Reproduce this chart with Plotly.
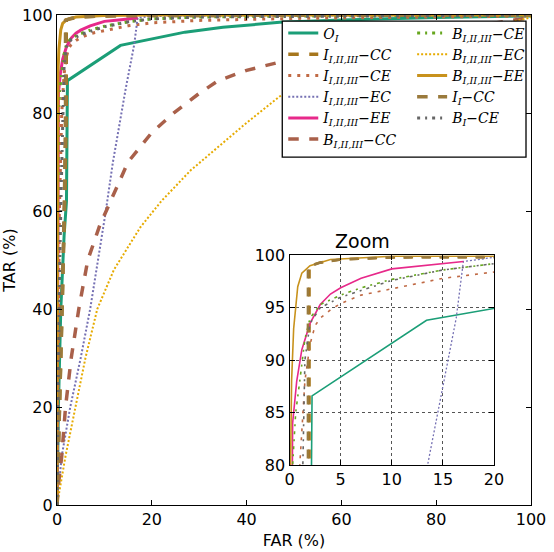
import plotly.graph_objects as go

# ---------------- data (FAR %, TAR %) ----------------
oi_far = [0, 0.3, 0.8, 1.5, 2.0, 2.2, 2.2, 13.4, 20, 27, 35, 47, 60, 80, 100]
oi_tar = [0, 20, 40, 55, 62, 80, 86.6, 93.8, 95.1, 96.5, 97.5, 98.5, 99.0, 99.5, 99.8]

icc_far = [0, 0.3, 0.7, 1.2, 1.7, 1.95, 1.95, 3, 5, 10, 20, 50, 100]
icc_tar = [0, 10, 25, 45, 65, 80, 99.0, 99.3, 99.6, 99.8, 99.9, 100, 100]

ice_far = [0, 0.2, 0.5, 1.0, 1.5, 2.0, 2.5, 3, 4, 5, 7, 10, 15, 20, 30, 50, 100]
ice_tar = [0, 30, 60, 80, 88, 91.5, 93.3, 94, 94.8, 95.4, 96.2, 96.8, 97.8, 98.4, 98.9, 99.3, 99.8]

iec_far = [0, 1, 2.8, 5, 7, 8.7, 10.3, 11.8, 13.5, 14.5, 15.5, 16.3, 17, 20, 100]
iec_tar = [0, 10, 20, 30, 40, 50, 60, 70, 80, 85, 90, 94, 99.4, 99.8, 100]

iee_far = [0, 0.1, 0.3, 0.7, 1.2, 2, 3, 4, 5, 7, 10, 13, 17]
iee_tar = [0, 50, 84, 88, 91, 93.5, 95.3, 96.3, 96.9, 97.8, 98.7, 99.0, 99.4]

bcc_far = [0, 0.4, 1, 1.8, 3, 4.6, 6.5, 9, 11.3, 15, 20, 24.6, 30, 34, 40, 47, 60, 80, 100]
bcc_tar = [0, 5, 10, 20, 30, 40, 50, 57, 62, 70, 76, 80, 84, 86.6, 88.7, 90.4, 93, 96.5, 99.5]

bce_far = [0, 0.1, 0.3, 0.6, 1, 1.5, 2, 3, 5, 7, 10, 15, 20, 30, 50, 100]
bce_tar = [0, 40, 80, 85, 88, 92, 94, 95.3, 96.2, 96.9, 97.7, 98.6, 99.2, 99.6, 99.8, 100]

bec_far = [0, 0.5, 1.8, 3.9, 6, 8.5, 12, 17.6, 22, 28.2, 35, 40, 47, 60, 80, 100]
bec_tar = [0, 3, 10, 20, 30, 40, 48, 56.7, 62, 68.3, 74, 78, 83.4, 89, 95, 99.5]

bee_far = [0, 0.05, 0.1, 0.2, 0.4, 0.8, 1.2, 2, 4, 10, 20, 100]
bee_tar = [0, 50, 80, 88, 93, 97, 98.3, 99, 99.6, 99.9, 100, 100]

iicc_far = [0, 0.3, 0.7, 1.2, 1.6, 1.8, 1.8, 3, 5, 10, 20, 50, 100]
iicc_tar = [0, 10, 25, 45, 65, 80, 98.9, 99.3, 99.6, 99.8, 99.9, 100, 100]

bice_far = [0, 0.2, 0.5, 0.9, 1.3, 1.5, 2, 3, 5, 10, 15, 20, 30, 60, 100]
bice_tar = [0, 20, 45, 65, 80, 90, 93.5, 95, 96, 97.6, 98.6, 99.2, 99.6, 99.8, 100]

x_ticks = [0, 20, 40, 60, 80, 100]
y_ticks = [0, 20, 40, 60, 80, 100]
zx_ticks = [0, 5, 10, 15, 20]
zy_ticks = [80, 85, 90, 95, 100]

# (name, far, tar, color, dash, main width, inset width, legend)
series = [
    ("<i>O<sub>I</sub></i>", oi_far, oi_tar, "#1b9e77", "solid", 3, 1.6, "legend"),
    ("<i>I<sub>I,II,III</sub>−CC</i>", icc_far, icc_tar, "#a6761d", "dash", 3.5, 2.6, "legend"),
    ("<i>I<sub>I,II,III</sub>−CE</i>", ice_far, ice_tar, "#c06a45", "3px,6px", 3, 1.6, "legend"),
    ("<i>I<sub>I,II,III</sub>−EC</i>", iec_far, iec_tar, "#7570b3", "2px,2px", 2, 1.3, "legend"),
    ("<i>I<sub>I,II,III</sub>−EE</i>", iee_far, iee_tar, "#e7298a", "solid", 3, 1.6, "legend"),
    ("<i>B<sub>I,II,III</sub>−CC</i>", bcc_far, bcc_tar, "#a9604a", "dash", 3.5, 2.5, "legend"),
    ("<i>B<sub>I,II,III</sub>−CE</i>", bce_far, bce_tar, "#66a61e", "3px,5px,2px,5px", 3, 1.6, "legend2"),
    ("<i>B<sub>I,II,III</sub>−EC</i>", bec_far, bec_tar, "#e6ab02", "2px,2px", 2, 1.3, "legend2"),
    ("<i>B<sub>I,II,III</sub>−EE</i>", bee_far, bee_tar, "#c8921c", "solid", 3, 1.6, "legend2"),
    ("<i>I<sub>I</sub>−CC</i>", iicc_far, iicc_tar, "#9a7a3c", "dash", 3.5, 2.6, "legend2"),
    ("<i>B<sub>I</sub>−CE</i>", bice_far, bice_tar, "#666666", "3px,5px,2px,5px", 3, 1.6, "legend2"),
]

fig = go.Figure()
for name, fa, ta, col, dash, w, wi, lg in series:
    fig.add_trace(go.Scatter(x=fa, y=ta, mode="lines", name=name, legend=lg,
                             line=dict(color=col, dash=dash, width=w),
                             xaxis="x", yaxis="y"))
for name, fa, ta, col, dash, w, wi, lg in series:
    fig.add_trace(go.Scatter(x=fa, y=ta, mode="lines", name=name, showlegend=False,
                             line=dict(color=col, dash=dash, width=wi),
                             xaxis="x2", yaxis="y2"))

W, H = 554, 552
L, R, T, B = 56.5, 531, 14.5, 505
def px(x):
    return (x - L) / (R - L)
def py(y):
    return (B - y) / (B - T)

axis_font = dict(family="DejaVu Sans", size=16, color="black")
common = dict(showline=True, linecolor="black", linewidth=1.3, mirror="ticks",
              ticks="inside", ticklen=5, tickcolor="black", tickfont=axis_font,
              zeroline=False, automargin=False)

fig.update_layout(
    width=W, height=H,
    margin=dict(l=L, r=W - R, t=T, b=H - B, autoexpand=False),
    paper_bgcolor="white", plot_bgcolor="white",
    xaxis=dict(range=[0, 100], tickvals=x_ticks, showgrid=False,
               title=dict(text="FAR (%)", font=axis_font, standoff=6), **common),
    yaxis=dict(range=[0, 100], tickvals=y_ticks, showgrid=False,
               title=dict(text="TAR (%)", font=axis_font, standoff=4), **common),
    xaxis2=dict(domain=[px(289.3), px(494)], anchor="y2", range=[0, 20],
                tickvals=zx_ticks, showgrid=True, gridcolor="#555555",
                griddash="dot", gridwidth=1, **common),
    yaxis2=dict(domain=[py(465), py(255)], anchor="x2", range=[80, 100],
                tickvals=zy_ticks, showgrid=True, gridcolor="#555555",
                griddash="dot", gridwidth=1, **common),
    legend=dict(x=px(283), y=py(17), xanchor="left", yanchor="top",
                bgcolor="rgba(0,0,0,0)", borderwidth=0,
                font=dict(family="DejaVu Serif", size=14, color="black"),
                tracegroupgap=0, itemwidth=30),
    legend2=dict(x=px(412), y=py(17), xanchor="left", yanchor="top",
                 bgcolor="rgba(0,0,0,0)", borderwidth=0,
                 font=dict(family="DejaVu Serif", size=14, color="black"),
                 tracegroupgap=0, itemwidth=30),
    showlegend=True,
)

fig.add_shape(type="rect", xref="paper", yref="paper",
              x0=px(282), x1=px(526), y0=py(156.7), y1=py(20.7),
              line=dict(color="black", width=1.3), fillcolor="white",
              layer="above")

fig.add_annotation(text="Zoom", xref="paper", yref="paper",
                   x=(px(289.3) + px(494)) / 2, y=py(255), yanchor="bottom",
                   showarrow=False, font=dict(family="DejaVu Sans", size=19, color="black"),
                   yshift=1)

fig.write_html("out.html", config={"displayModeBar": False},
               post_script="document.body.style.margin='0';document.body.style.overflow='hidden';")
